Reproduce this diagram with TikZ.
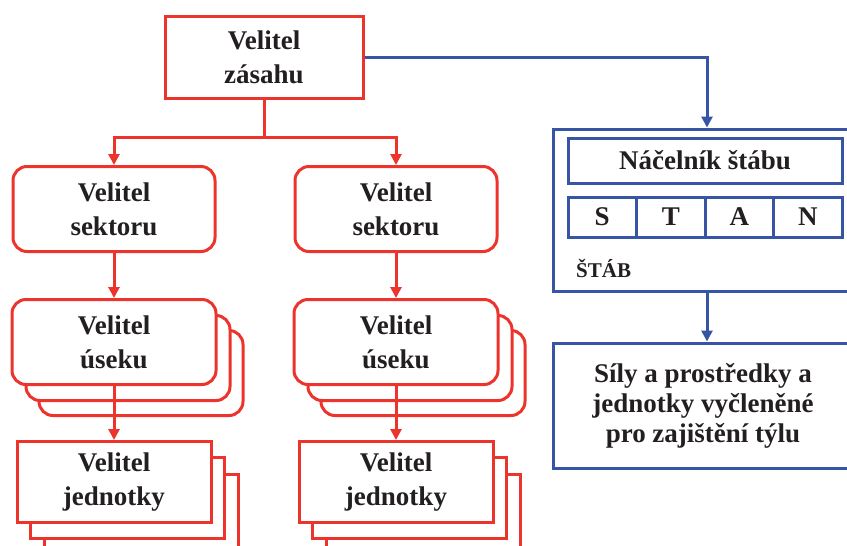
\documentclass[tikz,border=0pt]{standalone}
\usepackage{fontspec}
\setmainfont{Liberation Serif}
\usepackage{tikz}
\usetikzlibrary{shadows}
\usetikzlibrary{positioning}
\usetikzlibrary{arrows.meta}

\definecolor{vred}{RGB}{236,52,44}
\definecolor{vblue}{RGB}{56,84,164}
\definecolor{vtext}{RGB}{35,31,32}

\begin{document}
\begin{tikzpicture}[
        x=1pt, y=-1pt,
        velitel/.style={rectangle, draw=vred, fill=white, line width=3pt, text=vtext, font=\fontsize{27}{34}\selectfont\bfseries, align=center, inner sep=0pt},
        sektor/.style={velitel, rounded corners=14pt, minimum width=202pt, minimum height=85pt},
        usek/.style={sektor, minimum width=204pt,
          copy shadow={shadow xshift=27pt, shadow yshift=-31pt, opacity=1, fill=white, draw=vred, line width=3pt},
          copy shadow={shadow xshift=14pt, shadow yshift=-16pt, opacity=1, fill=white, draw=vred, line width=3pt}},
        jednotka/.style={velitel, minimum width=194pt, minimum height=81pt,
          copy shadow={shadow xshift=27pt, shadow yshift=-33pt, opacity=1, fill=white, draw=vred, line width=3pt},
          copy shadow={shadow xshift=13pt, shadow yshift=-16pt, opacity=1, fill=white, draw=vred, line width=3pt}},
        stab/.style={rectangle, draw=vblue, fill=white, line width=3pt, text=vtext, font=\fontsize{27}{30}\selectfont\bfseries, align=center, inner sep=0pt},
        redarrow/.style={draw=vred, line width=3pt, -{Triangle[length=11pt, width=11pt]}},
        bluearrow/.style={draw=vblue, line width=3pt, -{Triangle[length=11pt, width=11pt]}}
      ]
        \path[use as bounding box] (0,0) rectangle (847,546);
        \clip (0,0) rectangle (847,546);

        % velitelska linie
        \node[velitel, minimum width=198pt, minimum height=82pt] (zasah) at (264,57)   {Velitel\\zásahu};
        \node[sektor]    (sektor1) at (114,209)                      {Velitel\\sektoru};
        \node[sektor]    (sektor2) at (396,209)                      {Velitel\\sektoru};
        \node[usek]      (usek1)   [below=45pt of sektor1]           {Velitel\\úseku};
        \node[usek]      (usek2)   [below=45pt of sektor2]           {Velitel\\úseku};
        \node[jednotka]  (jedn1)   [below=54pt of usek1]             {Velitel\\jednotky};
        \node[jednotka]  (jedn2)   [below=54pt of usek2]             {Velitel\\jednotky};

        \coordinate (fork) at (264,137);
        \draw[draw=vred, line width=3pt]  (zasah.south) -- (fork);
        \draw[redarrow]  (fork) -| (sektor1.north);
        \draw[redarrow]  (fork) -| (sektor2.north);
        \draw[redarrow]  (sektor1.south) -- (usek1.north);
        \draw[redarrow]  (sektor2.south) -- (usek2.north);
        \draw[redarrow]  (usek1.south) -- (jedn1.north);
        \draw[redarrow]  (usek2.south) -- (jedn2.north);

        % stab
        \node[stab, minimum width=308pt, minimum height=162pt] (stab)     at (707,210)   {};
        \node[stab, minimum width=274pt, minimum height=45pt]  (nacelnik) at (705,160.5) {Náčelník štábu};
        \foreach \pismeno [count=\i] in {S,T,A,N}
          \node[stab, minimum width=68.5pt, minimum height=40pt] (stan\i) at ({568+68.5*(\i-0.5)},217) {\pismeno};
        \node[anchor=west, inner sep=0pt, text=vtext, font=\fontsize{21}{24}\selectfont\bfseries] (stablabel) at (576,268) {ŠTÁB};
        \node[stab, minimum width=300pt, minimum height=125pt] (tyl) at (703,405.5) {Síly a prostředky a\\jednotky vyčleněné\\pro zajištění týlu};

        \draw[bluearrow]  (zasah.east) -| (stab.north);
        \draw[bluearrow]  (stab.south) -- (stab.south |- tyl.north);
      \end{tikzpicture}
\end{document}
